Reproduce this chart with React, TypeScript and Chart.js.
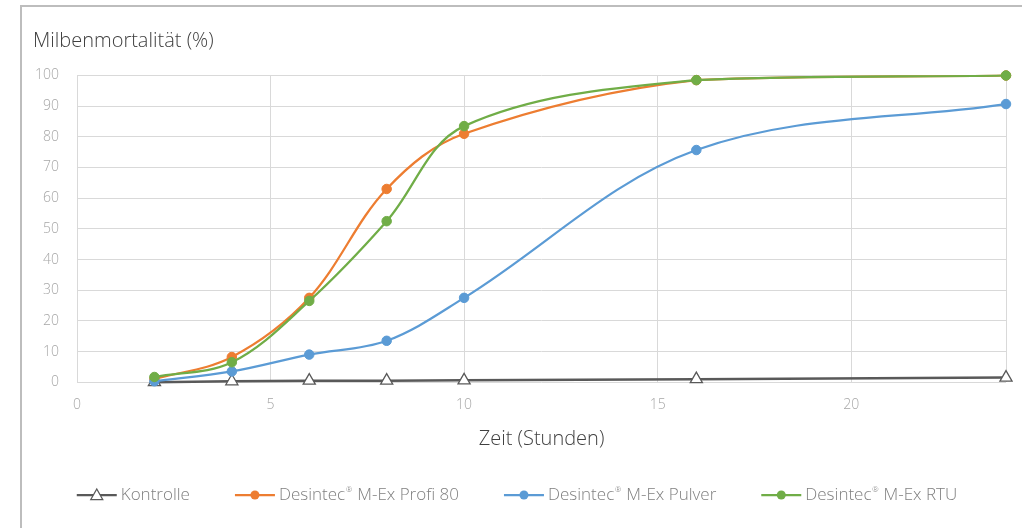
import React, { useEffect, useRef } from "react";
import { Chart, registerables } from "chart.js";

Chart.register(...registerables);

// ---------- data ----------
const hours = [2, 4, 6, 8, 10, 16, 24];
const kontrolle = [0, 0.3, 0.5, 0.5, 0.6, 1, 1.5];
const profi80 = [1, 8.2, 27.5, 63, 81, 98.5, 100];
const pulver = [0.3, 3.5, 9, 13.5, 27.5, 75.7, 90.7];
const rtu = [1.7, 6.5, 26.5, 52.5, 83.5, 98.5, 100];
const seriesNames = [
  "Kontrolle",
  "Desintec® M-Ex Profi 80",
  "Desintec® M-Ex Pulver",
  "Desintec® M-Ex RTU",
];
const seriesValues = [kontrolle, profi80, pulver, rtu];
const seriesColors = ["#595959", "#ED7D31", "#5B9BD5", "#70AD47"];
const xTickValues = [0, 5, 10, 15, 20];
const xMax = 24;
const yMin = 0;
const yMax = 100;
const yStep = 10;
const yTitle = "Milbenmortalität (%)";
const xTitle = "Zeit (Stunden)";

const FONT = "'Open Sans', Roboto, sans-serif";

function drawMarker(ctx: CanvasRenderingContext2D, idx: number, x: number, y: number) {
  const color = seriesColors[idx];
  ctx.save();
  if (idx === 0) {
    const r = 7;
    ctx.beginPath();
    ctx.moveTo(x, y - r * 0.85);
    ctx.lineTo(x + r * 0.85, y + r * 0.65);
    ctx.lineTo(x - r * 0.85, y + r * 0.65);
    ctx.closePath();
    ctx.fillStyle = "#ffffff";
    ctx.fill();
    ctx.strokeStyle = color;
    ctx.lineWidth = 1.3;
    ctx.stroke();
  } else {
    ctx.beginPath();
    ctx.arc(x, y, 4.5, 0, Math.PI * 2);
    ctx.fillStyle = color;
    ctx.fill();
  }
  ctx.restore();
}

const legendPlugin = {
  id: "customLegend",
  afterDraw(chart: any) {
    const ctx: CanvasRenderingContext2D = chart.ctx;
    ctx.save();
    const mainFont = `300 17px ${FONT}`;
    const supFont = `300 8px ${FONT}`;
    const lineW = 40;
    const gapText = 4;
    const gapItem = 45;
    const measure = (name: string) => {
      const parts = name.split("®");
      ctx.font = mainFont;
      let w = ctx.measureText(parts[0]).width;
      if (parts.length > 1) {
        ctx.font = supFont;
        w += ctx.measureText("®").width + 1;
        ctx.font = mainFont;
        w += ctx.measureText(parts[1]).width;
      }
      return w;
    };
    const widths = seriesNames.map((n) => lineW + gapText + measure(n));
    const total = widths.reduce((a, b) => a + b, 0) + gapItem * (widths.length - 1);
    let x = chart.width / 2 + 6 - total / 2;
    const y = 495;
    seriesNames.forEach((name, i) => {
      ctx.beginPath();
      ctx.moveTo(x, y);
      ctx.lineTo(x + lineW, y);
      ctx.strokeStyle = seriesColors[i];
      ctx.lineWidth = 2.25;
      ctx.stroke();
      drawMarker(ctx, i, x + lineW / 2, y);
      let tx = x + lineW + gapText;
      ctx.fillStyle = "#808080";
      ctx.textBaseline = "middle";
      ctx.textAlign = "left";
      const parts = name.split("®");
      ctx.font = mainFont;
      ctx.fillText(parts[0], tx, y);
      tx += ctx.measureText(parts[0]).width;
      if (parts.length > 1) {
        ctx.font = supFont;
        ctx.fillText("®", tx + 0.5, y - 5);
        tx += ctx.measureText("®").width + 1;
        ctx.font = mainFont;
        ctx.fillText(parts[1], tx, y);
      }
      x += widths[i] + gapItem;
    });
    ctx.restore();
  },
};

export default function App() {
  const canvasRef = useRef<HTMLCanvasElement | null>(null);

  useEffect(() => {
    if (!canvasRef.current) return;
    const datasets = seriesValues.map((vals, i) => ({
      label: seriesNames[i],
      data: hours.map((h, j) => ({ x: h, y: vals[j] })),
      borderColor: seriesColors[i],
      backgroundColor: i === 0 ? "#ffffff" : seriesColors[i],
      borderWidth: i === 0 ? 2.5 : 2.25,
      pointStyle: i === 0 ? "triangle" : "circle",
      pointRadius: i === 0 ? 7 : 4.75,
      pointBorderWidth: i === 0 ? 1.3 : 1,
      pointBackgroundColor: i === 0 ? "#ffffff" : seriesColors[i],
      pointBorderColor: seriesColors[i],
      tension: i === 0 ? 0 : 0.35,
      order: 3 - i,
      clip: 12,
    }));

    const chart = new Chart(canvasRef.current, {
      type: "line",
      data: { datasets },
      plugins: [legendPlugin],
      options: {
        animation: false,
        responsive: false,
        devicePixelRatio: 1,
        events: [],
        layout: { padding: { left: 33, right: 16, top: 0, bottom: 77 } },
        plugins: {
          legend: { display: false },
          tooltip: { enabled: false },
          title: {
            display: true,
            text: yTitle,
            align: "start",
            color: "#404040",
            font: { family: FONT, size: 20, weight: "300" as any },
            padding: { top: 29, bottom: 22.5 },
          },
        },
        scales: {
          x: {
            type: "linear",
            min: 0,
            max: xMax,
            afterBuildTicks: (scale: any) => {
              scale.ticks = [...xTickValues, xMax].map((v) => ({ value: v }));
            },
            ticks: {
              includeBounds: false,
              padding: 14,
              color: "#a6a6a6",
              font: { family: FONT, size: 14, weight: "300" as any },
              maxRotation: 0,
              callback: (v: any) => (xTickValues.includes(Number(v)) ? String(v) : ""),
            },
            grid: { color: "#d9d9d9", lineWidth: 1, drawTicks: false },
            border: { display: false },
            title: {
              display: true,
              text: xTitle,
              color: "#404040",
              font: { family: FONT, size: 20, weight: "300" as any },
              padding: { top: 0, bottom: 0 },
            },
          },
          y: {
            type: "linear",
            min: yMin,
            max: yMax,
            afterFit: (scale: any) => {
              scale.width = 44;
            },
            ticks: {
              stepSize: yStep,
              padding: 18,
              color: "#a6a6a6",
              font: { family: FONT, size: 14, weight: "300" as any },
            },
            grid: { color: "#d9d9d9", lineWidth: 1, drawTicks: false },
            border: { display: false },
          },
        },
      },
    });
    return () => chart.destroy();
  }, []);

  return (
    <div
      style={{
        position: "fixed",
        left: 0,
        top: 0,
        width: 1022,
        height: 528,
        overflow: "hidden",
        background: "#ffffff",
      }}
    >
      <div
        style={{
          position: "absolute",
          left: 20,
          top: 5,
          width: 1100,
          height: 700,
          borderLeft: "2px solid #bdbdbd",
          borderTop: "2px solid #bdbdbd",
          boxSizing: "border-box",
        }}
      />
      <canvas
        ref={canvasRef}
        width={1022}
        height={528}
        style={{ position: "absolute", left: 0, top: 0, width: 1022, height: 528 }}
      />
    </div>
  );
}
